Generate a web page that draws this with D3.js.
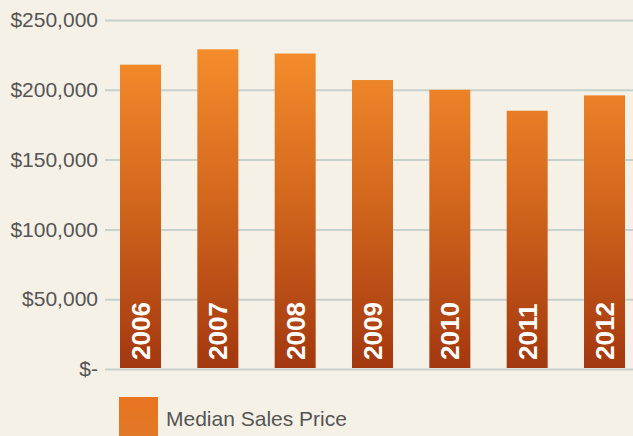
<!DOCTYPE html>
<html>
<head>
<meta charset="utf-8">
<script src="https://cdn.jsdelivr.net/npm/d3@7"></script>
<style>
  body { margin: 0; background: #f5f1e7; }
  svg { display: block; }
</style>
</head>
<body>
<div id="chart"></div>
<script>
var svgWidth = 633;
var svgHeight = 436;

// data
var years = ["2006", "2007", "2008", "2009", "2010", "2011", "2012"];
var medianPrice = [218000, 229000, 226000, 207000, 200000, 185000, 196000];
var yTicks = [0, 50000, 100000, 150000, 200000, 250000];
var seriesName = "Median Sales Price";

var svg = d3.select("#chart")
  .append("svg")
  .attr("width", svgWidth)
  .attr("height", svgHeight);

svg.append("rect")
  .attr("width", svgWidth)
  .attr("height", svgHeight)
  .attr("fill", "#f5f1e7");

// scales
var xScale = d3.scaleBand()
  .domain(years)
  .range([120, 625])
  .paddingInner(0.47)
  .paddingOuter(0);

var yScale = d3.scaleLinear()
  .domain([0, 250000])
  .range([369, 20]);

// bar gradient, shared across the plot height
var defs = svg.append("defs");
var grad = defs.append("linearGradient")
  .attr("id", "barGrad")
  .attr("gradientUnits", "userSpaceOnUse")
  .attr("x1", 0).attr("y1", yScale(230000))
  .attr("x2", 0).attr("y2", yScale(0));
grad.append("stop").attr("offset", "0%").attr("stop-color", "#f58d2c");
grad.append("stop").attr("offset", "45%").attr("stop-color", "#d4691e");
grad.append("stop").attr("offset", "100%").attr("stop-color", "#a3370f");

var legendGrad = defs.append("linearGradient")
  .attr("id", "legendGrad")
  .attr("x1", 0).attr("y1", 0)
  .attr("x2", 0).attr("y2", 1);
legendGrad.append("stop").attr("offset", "0%").attr("stop-color", "#e8741f");
legendGrad.append("stop").attr("offset", "100%").attr("stop-color", "#e07a2a");

// gridlines + labels
var yAxis = d3.axisLeft(yScale)
  .tickValues(yTicks)
  .tickSize(-528)
  .tickPadding(7)
  .tickFormat(function(d) { return d === 0 ? "$-" : "$" + d3.format(",")(d); });

var yAxisG = svg.append("g")
  .attr("transform", "translate(105,0)")
  .call(yAxis);

yAxisG.select(".domain").remove();
yAxisG.selectAll(".tick line")
  .attr("stroke", "#c6d1cc")
  .attr("stroke-width", 2);
yAxisG.selectAll(".tick text")
  .attr("fill", "#555555")
  .style("font-family", "Liberation Sans, Arial, sans-serif")
  .style("font-size", "21px");

// bars
svg.selectAll(".bar")
  .data(medianPrice)
  .enter()
  .append("rect")
  .attr("class", "bar")
  .attr("x", function(d, i) { return xScale(years[i]); })
  .attr("y", function(d) { return yScale(d); })
  .attr("width", xScale.bandwidth())
  .attr("height", function(d) { return yScale(0) - 1 - yScale(d); })
  .attr("fill", "url(#barGrad)");

// year labels inside bars
svg.selectAll(".yearLabel")
  .data(years)
  .enter()
  .append("text")
  .attr("class", "yearLabel")
  .attr("transform", function(d) {
    return "translate(" + (xScale(d) + xScale.bandwidth() / 2) + ",360) rotate(-90)";
  })
  .attr("dy", "0.36em")
  .attr("fill", "#ffffff")
  .style("font-family", "Liberation Sans, Arial, sans-serif")
  .style("font-weight", "bold")
  .style("font-size", "26px")
  .text(function(d) { return d; });

// legend
svg.append("rect")
  .attr("x", 119)
  .attr("y", 397)
  .attr("width", 39)
  .attr("height", 45)
  .attr("fill", "url(#legendGrad)");

svg.append("text")
  .attr("x", 166)
  .attr("y", 426)
  .attr("fill", "#555555")
  .style("font-family", "Liberation Sans, Arial, sans-serif")
  .style("font-size", "21px")
  .text(seriesName);
</script>
</body>
</html>
